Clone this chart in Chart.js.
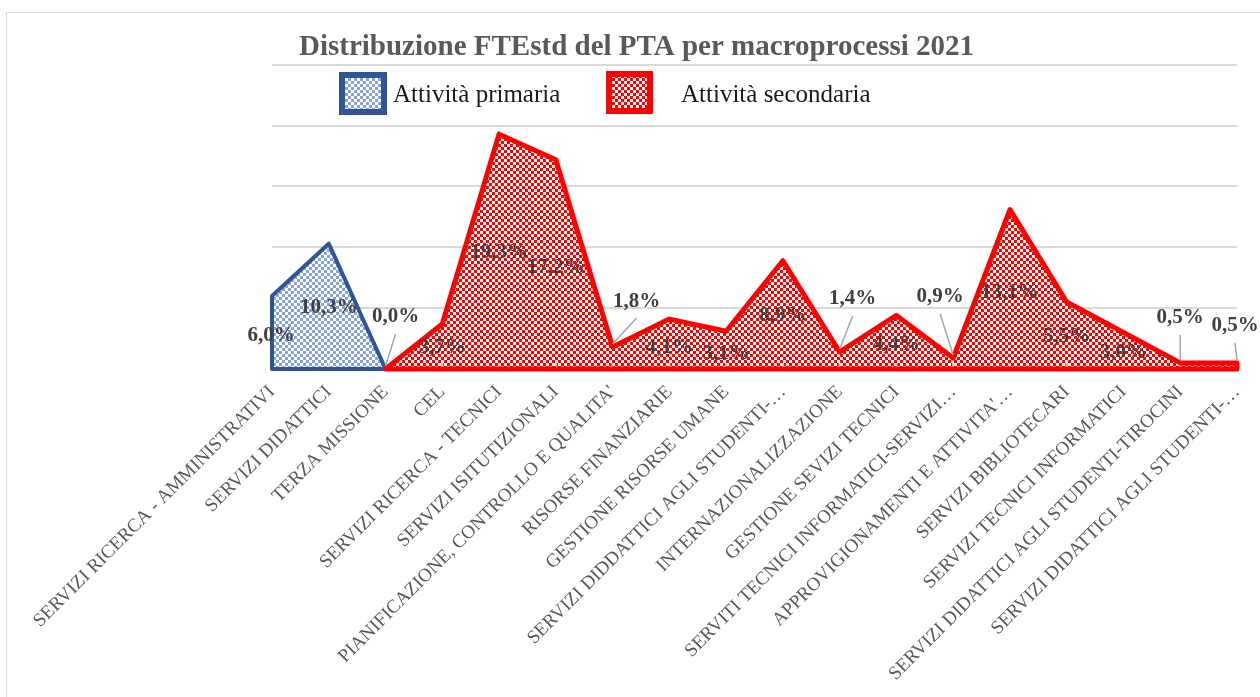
<!DOCTYPE html>
<html>
<head>
<meta charset="utf-8">
<script src="https://cdn.jsdelivr.net/npm/chart.js@4.4.1/dist/chart.umd.min.js"></script>
<style>
html,body{margin:0;padding:0;background:#fff;}
#wrap{position:relative;width:1260px;height:697px;overflow:hidden;background:#fff;}
#frame{position:absolute;left:6px;top:12px;width:1270px;height:700px;border:1px solid #d9d9d9;box-sizing:border-box;}
canvas{position:absolute;left:0;top:0;}
</style>
</head>
<body>
<div id="wrap"><div id="frame"></div><canvas id="c" width="1260" height="697"></canvas></div>
<script>
// ---------- DATA ----------
const chartTitle = 'Distribuzione FTEstd del PTA per macroprocessi 2021';
const categories = [
  'SERVIZI RICERCA - AMMINISTRATIVI',
  'SERVIZI DIDATTICI',
  'TERZA MISSIONE',
  'CEL',
  'SERVIZI RICERCA - TECNICI',
  'SERVIZI ISITUTIZIONALI',
  "PIANIFICAZIONE, CONTROLLO E QUALITA'",
  'RISORSE FINANZIARIE',
  'GESTIONE RISORSE UMANE',
  'SERVIZI DIDDATTICI AGLI STUDENTI-…',
  'INTERNAZIONALIZZAZIONE',
  'GESTIONE SEVIZI TECNICI',
  'SERVITI TECNICI INFORMATICI-SERVIZI…',
  "APPROVIGIONAMENTI E ATTIVITA'…",
  'SERVIZI BIBLIOTECARI',
  'SERVIZI TECNICI INFORMATICI',
  'SERVIZI DIDATTICI AGLI STUDENTI-TIROCINI',
  'SERVIZI DIDATTICI AGLI STUDENTI-…'
];
const seriesNames = ['Attività primaria', 'Attività secondaria'];
const primaryValues = [6.0, 10.3, 0.0, null, null, null, null, null, null, null, null, null, null, null, null, null, null, null];
const secondaryValues = [null, null, 0.0, 3.7, 19.3, 17.2, 1.8, 4.1, 3.1, 8.9, 1.4, 4.4, 0.9, 13.1, 5.5, 3.0, 0.5, 0.5];
const yTickValues = [0, 5, 10, 15, 20, 25];

// ---------- STYLE ----------
const SERIF = '"Liberation Serif", "Times New Roman", serif';
const outlineColors = ['#2F5597', '#FF0000'];
const outlineWidths = [4, 5];
// label offsets (dx, dy from point to text centre, leader line flag) per series, per category
const labelLayout = [
  [[-1, 40], [0, 64], [10, -52, true]],
  [null, null, null, [0, 24], [0, 118], [0, 108], [24, -46, true], [0, 28], [0, 22], [0, 55],
   [13, -53, true], [0, 29], [-13, -61, true], [0, 83], [0, 35], [0, 20], [0, -45, true], [-2, -37, true]]
];
// legend layout
const legendItems = [
  {box: [339, 72, 48, 43], textX: 393},
  {box: [606, 71, 47, 43], textX: 681}
];
const legendTextY = 95;

function makePattern(fg, bg, cell) {
  const c = document.createElement('canvas');
  c.width = c.height = cell * 2;
  const x = c.getContext('2d');
  x.fillStyle = bg; x.fillRect(0, 0, cell * 2, cell * 2);
  x.fillStyle = fg; x.fillRect(0, 0, cell, cell); x.fillRect(cell, cell, cell, cell);
  return x.createPattern(c, 'repeat');
}
const ctx0 = document.getElementById('c').getContext('2d');
const patterns = [makePattern('#86A3DA', '#FFFFFF', 3), makePattern('#FF0000', '#FFFFFF', 3)];

function fmt(v) { return v.toFixed(1).replace('.', ',') + '%'; }

const decorPlugin = {
  id: 'decor',
  afterDatasetsDraw(chart) {
    const ctx = chart.ctx;
    const y0 = chart.scales.y.getPixelForValue(0);
    // inside tick marks on the category axis
    const xs = chart.scales.x;
    ctx.save();
    ctx.strokeStyle = '#D9D9D9';
    ctx.lineWidth = 2;
    xs.ticks.forEach((t, k) => {
      const px = xs.getPixelForTick(k);
      ctx.beginPath(); ctx.moveTo(px, y0 - 6); ctx.lineTo(px, y0); ctx.stroke();
    });
    ctx.restore();
    // area outlines (full polygon incl. baseline and vertical edges)
    chart.data.datasets.forEach((ds, i) => {
      const meta = chart.getDatasetMeta(i);
      const pts = meta.data.filter((p, j) => ds.data[j] !== null && ds.data[j] !== undefined);
      if (!pts.length) return;
      ctx.save();
      ctx.beginPath();
      ctx.moveTo(pts[0].x, y0);
      pts.forEach(p => ctx.lineTo(p.x, p.y));
      ctx.lineTo(pts[pts.length - 1].x, y0);
      ctx.closePath();
      ctx.lineWidth = outlineWidths[i];
      ctx.strokeStyle = outlineColors[i];
      ctx.lineJoin = 'round';
      ctx.stroke();
      ctx.restore();
    });
    // data labels
    chart.data.datasets.forEach((ds, i) => {
      const meta = chart.getDatasetMeta(i);
      meta.data.forEach((p, j) => {
        const v = ds.data[j];
        const lay = labelLayout[i][j];
        if (v === null || v === undefined || !lay) return;
        const lx = p.x + lay[0], ly = p.y + lay[1];
        ctx.save();
        if (lay[2]) {
          ctx.beginPath();
          ctx.moveTo(lx, ly + 17);
          ctx.lineTo(p.x, p.y - 3);
          ctx.strokeStyle = '#A6A6A6';
          ctx.lineWidth = 1.5;
          ctx.stroke();
        }
        ctx.font = 'bold 21px ' + SERIF;
        ctx.fillStyle = '#404040';
        ctx.textAlign = 'center';
        ctx.textBaseline = 'middle';
        ctx.fillText(fmt(v), lx, ly);
        ctx.restore();
      });
    });
  },
  afterDraw(chart) {
    const ctx = chart.ctx;
    chart.data.datasets.forEach((ds, i) => {
      const it = legendItems[i];
      const [x, y, w, h] = it.box;
      ctx.save();
      ctx.fillStyle = ds.backgroundColor;
      ctx.fillRect(x, y, w, h);
      ctx.lineWidth = 6;
      ctx.strokeStyle = outlineColors[i];
      ctx.strokeRect(x + 3, y + 3, w - 6, h - 6);
      ctx.font = '25px ' + SERIF;
      ctx.fillStyle = '#1A1A1A';
      ctx.textAlign = 'left';
      ctx.textBaseline = 'middle';
      ctx.fillText(ds.label, it.textX, legendTextY);
      ctx.restore();
    });
  }
};

new Chart(ctx0, {
  type: 'line',
  data: {
    labels: categories,
    datasets: [
      {label: seriesNames[0], data: primaryValues, backgroundColor: patterns[0], borderColor: 'rgba(0,0,0,0)', borderWidth: 0, pointRadius: 0, fill: 'origin', tension: 0, order: 2},
      {label: seriesNames[1], data: secondaryValues, backgroundColor: patterns[1], borderColor: 'rgba(0,0,0,0)', borderWidth: 0, pointRadius: 0, fill: 'origin', tension: 0, order: 1}
    ]
  },
  options: {
    responsive: false,
    animation: false,
    events: [],
    layout: {padding: {left: 13, right: 0, top: 10, bottom: 0}},
    plugins: {
      legend: {display: false},
      tooltip: {enabled: false},
      title: {
        display: true,
        text: chartTitle,
        color: '#595959',
        font: {family: SERIF, size: 29, weight: 'bold', lineHeight: 1.2},
        padding: {top: 20, bottom: 0}
      }
    },
    scales: {
      x: {
        type: 'category',
        offset: false,
        grid: {display: false},
        border: {display: true, color: '#D9D9D9', width: 1},
        ticks: {
          autoSkip: false, maxRotation: 45, minRotation: 45,
          color: '#595959', padding: 4,
          font: {family: SERIF, size: 19}
        },
        afterFit: s => { s.height = 328; }
      },
      y: {
        min: 0, max: 25,
        afterBuildTicks: s => { s.ticks = yTickValues.map(v => ({value: v})); },
        grid: {color: '#D9D9D9', lineWidth: 2, drawTicks: false},
        border: {display: false},
        ticks: {display: false},
        afterFit: s => { s.width = 259; }
      },
      yRight: {
        position: 'right',
        grid: {display: false},
        border: {display: false},
        ticks: {display: false},
        afterFit: s => { s.width = 23; }
      }
    }
  },
  plugins: [decorPlugin]
});
</script>
</body>
</html>
